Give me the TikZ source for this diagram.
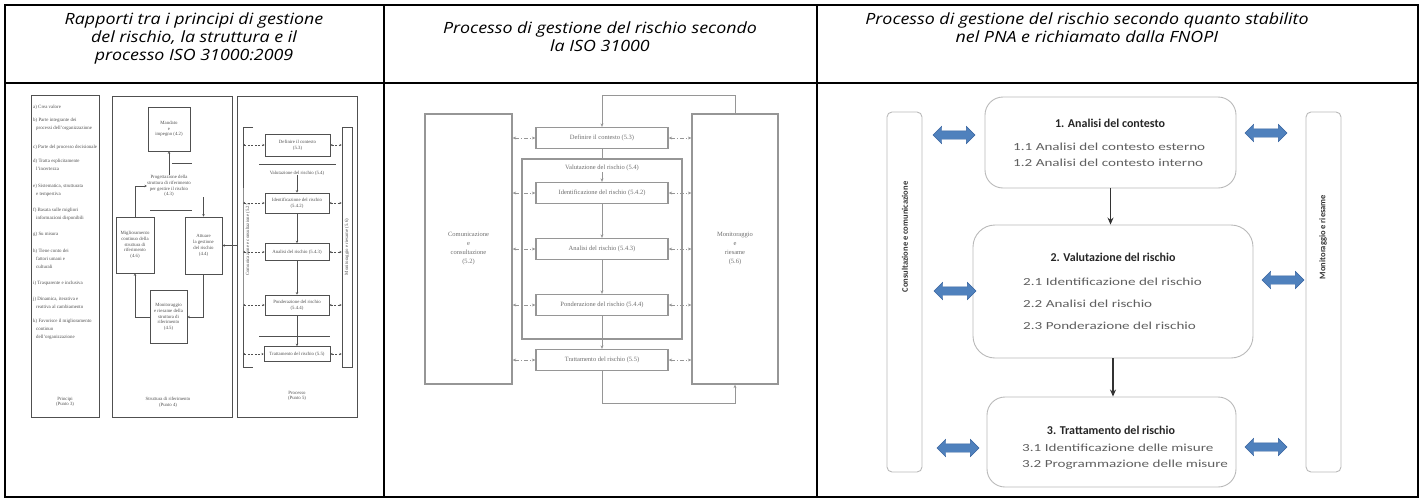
\documentclass[tikz,border=0pt]{standalone}
\usepackage{fontspec}
\setmainfont{Liberation Serif}
\newfontfamily\headfont[FakeStretch=1.15]{Open Sans}
\newfontfamily\pnafont{Carlito}
\newfontfamily\pnaitemfont[FakeStretch=1.4]{Carlito}
\usetikzlibrary{positioning,calc,shapes.arrows,arrows.meta}

\definecolor{scangray}{RGB}{80,80,80}
\definecolor{isogray}{RGB}{150,150,150}
\definecolor{isotext}{RGB}{110,110,110}
\definecolor{pnaline}{RGB}{185,185,185}
\definecolor{pnatext}{RGB}{95,95,95}
\definecolor{pnablue}{RGB}{79,129,189}
\definecolor{pnabluedark}{RGB}{56,100,160}

\tikzset{cell/.style={draw=black, line width=1.8pt},
         head/.style={font=\headfont\itshape\fontsize{15.5}{18}\selectfont, align=center, anchor=north, inner sep=0pt},
         scanbox/.style={draw=scangray, line width=0.7pt},
         scantxt/.style={font=\fontsize{4.8}{5.8}\selectfont, text=scangray, align=center, inner sep=0pt},
         scanitem/.style={scantxt, align=left, anchor=north west, font=\fontsize{4.9}{8}\selectfont},
         scanarr/.style={->, >={Stealth[length=2.5pt,width=2.5pt]}, draw=scangray, line width=0.5pt},
         scanside/.style={<->, >={Stealth[length=2.2pt,width=2.2pt]}, draw=scangray, line width=0.5pt, dash pattern=on 2pt off 1.5pt},
         isobox/.style={draw=isogray, line width=1.3pt, minimum width=132pt, minimum height=21pt, font=\fontsize{6.5}{8}\selectfont, text=isotext},
         isoside/.style={draw=isogray, line width=1.3pt, font=\fontsize{6.5}{9}\selectfont, text=isotext, align=center},
         isoline/.style={draw=isogray, line width=0.9pt},
         isoarr/.style={isoline, -{Stealth[length=3.5pt,width=3pt]}},
         isodash/.style={isoline, {Stealth[length=3.5pt,width=3pt]}-{Stealth[length=3.5pt,width=3pt]}, dash pattern=on 4pt off 2pt on 1pt off 2pt},
         stage/.style={draw=pnaline, line width=0.9pt, rounded corners=18pt},
         stitle/.style={font=\pnafont\bfseries\fontsize{12}{14}\selectfont, text=black!85},
         sitem/.style={font=\pnaitemfont\fontsize{10.8}{12}\selectfont, text=pnatext, anchor=west, inner sep=0pt},
         sidebar/.style={draw=pnaline, line width=0.9pt, rounded corners=5pt, minimum width=35pt, minimum height=360pt},
         sidetxt/.style={font=\pnafont\bfseries\fontsize{8.5}{10}\selectfont, text=black!80, rotate=90},
         link/.style={double arrow, fill=pnablue, draw=pnabluedark, line width=0.4pt, minimum height=42pt, minimum width=17pt, inner xsep=0pt, inner ysep=4pt, double arrow head extend=4.5pt},
         flow/.style={-{Stealth[length=7pt,width=6pt]}, line width=1.3pt, draw=black!80}
}

\begin{document}
\begin{tikzpicture}[x=1pt,y=-1pt]
  \useasboundingbox (0,0) rectangle (1424,501);

  % table
  \draw[cell] (5,5) rectangle (1418,497);
  \draw[cell] (5,83) -- (1418,83);
  \draw[cell] (384,5) -- (384,497);
  \draw[cell] (817,5) -- (817,497);
  \node[head] (h1) at (194,12.5) {Rapporti tra i principi di gestione\\del rischio, la struttura e il\\processo ISO 31000:2009};
  \node[head] (h2) at (600,21.5) {Processo di gestione del rischio secondo\\la ISO 31000};
  \node[head] (h3) at (1087,12.5) {Processo di gestione del rischio secondo quanto stabilito\\nel PNA e richiamato dalla FNOPI};

  % principi, struttura, processo
  \node[scanbox, minimum width=68pt, minimum height=322pt] (pri) at (65,256) {};
  \foreach \y/\t in {105/{a) Crea valore},
                     118/{b) Parte integrante dei\\\hspace*{3pt}processi dell'organizzazione},
                     145/{c) Parte del processo decisionale},
                     159/{d) Tratta esplicitamente\\\hspace*{3pt}l'incertezza},
                     184/{e) Sistematica, strutturata\\\hspace*{3pt}e tempestiva},
                     208/{f) Basata sulle migliori\\\hspace*{3pt}informazioni disponibili},
                     232/{g) Su misura},
                     249/{h) Tiene conto dei\\\hspace*{3pt}fattori umani e\\\hspace*{3pt}culturali},
                     281/{i) Trasparente e inclusiva},
                     297/{j) Dinamica, iterativa e\\\hspace*{3pt}reattiva al cambiamento},
                     319/{k) Favorisce il miglioramento\\\hspace*{3pt}continuo\\\hspace*{3pt}dell'organizzazione}}
    \node[scanitem] at (33,\y) {\t};
  \node[scantxt] (pril) at (65,402) {Principi\\(Punto 3)};

  \node[scanbox, minimum width=120pt, minimum height=321pt] (str) at (172,256.5) {};
  \node[scanbox, scantxt, minimum width=42pt, minimum height=44pt] (man) at (169,129) {Mandato\\e\\impegno (4.2)};
  \node[scantxt] (prog) at (169,186) {Progettazione della\\struttura di riferimento\\per gestire il rischio\\(4.3)};
  \draw[scanbox] (172,163) -- (192,163);
  \draw[scanbox] (150,210) -- (192,210);
  \node[scanbox, scantxt, minimum width=38pt, minimum height=56pt] (mig) at (135,245) {Miglioramento\\continuo della\\struttura di\\riferimento\\(4.6)};
  \node[scanbox, scantxt, minimum width=37pt, minimum height=57pt] (att) at (203.5,245.5) {Attuare\\la gestione\\del rischio\\(4.4)};
  \node[scanbox, scantxt, minimum width=37pt, minimum height=53pt] (mstr) at (168.5,317) {Monitoraggio\\e riesame della\\struttura di\\riferimento\\(4.5)};
  \draw[scanarr] (prog.north) -- (prog.north |- man.south);
  \draw[scanarr] (prog.south -| att.north) -- (att.north);
  \draw[scanarr] (att.south) |- (mstr.east);
  \draw[scanarr] (mstr.west) -| (mig.south);
  \draw[scanarr] (mig.north) |- (prog.west);
  \node[scantxt] (strl) at (168,402) {Struttura di riferimento\\(Punto 4)};

  \node[scanbox, minimum width=120pt, minimum height=321pt] (prc) at (297,256.5) {};
  \draw[scanarr] (prc.west |- att.east) -- (att.east);
  \coordinate (ccl) at (243,247);
  \draw[scanbox] (253,127) -| (ccl) |- (253,367);
  \node[scantxt, rotate=90] (cc) at (248,240) {Comunicazione e consultazione (5.2)};
  \node[scanbox, minimum width=10pt, minimum height=240pt] (monr) at (347,247) {};
  \node[scantxt, rotate=90] at (monr) {Monitoraggio e riesame (5.6)};
  \node[scanbox, scantxt, minimum width=65pt, minimum height=22pt] (defr) at (297.5,145) {Definire il contesto\\(5.3)};
  \draw[scanbox] (259,164) -- (336,164);
  \node[scantxt] (valr) at (297,173) {Valutazione del rischio (5.4)};
  \node[scanbox, scantxt, minimum width=64pt, minimum height=20pt] (idrr) at (297,203) {Identificazione del rischio\\(5.4.2)};
  \node[scanbox, scantxt, minimum width=64pt, minimum height=17pt] (anrr) at (297,252) {Analisi del rischio (5.4.3)};
  \node[scanbox, scantxt, minimum width=64pt, minimum height=20pt] (ponr) at (297,305) {Ponderazione del rischio\\(5.4.4)};
  \draw[scanbox] (259,336) -- (330,336);
  \node[scanbox, scantxt, minimum width=66pt, minimum height=15pt] (trar) at (297,354) {Trattamento del rischio (5.5)};
  \draw[scanarr] (valr.south) -- (idrr.north);
  \draw[scanarr] (idrr.south) -- (anrr.north);
  \draw[scanarr] (anrr.south) -- (ponr.north);
  \draw[scanarr] (ponr.south) -- (trar.north);
  \foreach \n in {defr,idrr,anrr,ponr,trar} {
    \draw[scanside] (ccl |- \n.west) -- (\n.west);
    \draw[scanside] (\n.east) -- (monr.west |- \n.east);
  }
  \node[scantxt] (prcl) at (297,396) {Processo\\(Punto 5)};

  % ISO 31000
  \node[isoside, minimum width=87pt, minimum height=270pt] (isocom) at (468.5,249) {Comunicazione\\e\\consultazione\\(5.2)};
  \node[isoside, minimum width=86pt, minimum height=270pt] (isomon) at (735,249) {Monitoraggio\\e\\riesame\\(5.6)};
  \node[draw=isogray, line width=1.3pt, minimum width=160pt, minimum height=180pt] (isoval) at (602,249) {};
  \node[font=\fontsize{6.5}{8}\selectfont, text=isotext, inner sep=1pt] (isovall) at (602,168) {Valutazione del rischio (5.4)};
  \node[isobox] (isodef) at (602,138) {Definire il contesto (5.3)};
  \node[isobox] (isoidr) at (602,193) {Identificazione del rischio (5.4.2)};
  \node[isobox] (isoanr) at (602,249) {Analisi del rischio (5.4.3)};
  \node[isobox] (isopon) at (602,305) {Ponderazione del rischio (5.4.4)};
  \node[isobox] (isotra) at (602,360) {Trattamento del rischio (5.5)};
  \coordinate (isotop) at (602,95);
  \coordinate (isobot) at (602,403);
  \draw[isoarr] (isomon.north) |- (isotop) -- (isodef.north);
  \draw[isoline] (isodef.south) -- (isoval.north);
  \draw[isoarr] (isovall.south) -- (isoidr.north);
  \draw[isoarr] (isoidr.south) -- (isoanr.north);
  \draw[isoarr] (isoanr.south) -- (isopon.north);
  \draw[isoline] (isopon.south) -- (isoval.south);
  \draw[isoarr] (isoval.south) -- (isotra.north);
  \draw[isoarr] (isotra.south) -- (isobot) -| (isomon.south);
  \foreach \n in {isodef,isoidr,isoanr,isopon,isotra} {
    \draw[isodash] (isocom.east |- \n.west) -- (\n.west);
    \draw[isodash] (\n.east) -- (isomon.west |- \n.east);
  }

  % PNA / FNOPI
  \node[sidebar] (cons) at (904.5,292) {};
  \node[sidetxt] at (905,237) {Consultazione e comunicazione};
  \node[sidebar] (moni) at (1323.5,292) {};
  \node[sidetxt] at (1323,237) {Monitoraggio e riesame};

  \node[stage, minimum width=251pt, minimum height=91pt] (anal) at (1110.5,142.5) {};
  \node[stitle] at (1110,123) {1. Analisi del contesto};
  \node[sitem] at (1013,147) {1.1 Analisi del contesto esterno};
  \node[sitem] at (1013,163) {1.2 Analisi del contesto interno};

  \node[stage, rounded corners=22pt, minimum width=280pt, minimum height=133pt] (valu) at (1113,291.5) {};
  \node[stitle] at (1113,257) {2. Valutazione del rischio};
  \node[sitem] at (1023,282) {2.1 Identificazione del rischio};
  \node[sitem] at (1023,304) {2.2 Analisi del rischio};
  \node[sitem] at (1023,326) {2.3 Ponderazione del rischio};

  \node[stage, minimum width=249pt, minimum height=90pt] (trat) at (1111.5,442) {};
  \node[stitle] at (1111,430) {3. Trattamento del rischio};
  \node[sitem] at (1022,448) {3.1 Identificazione delle misure};
  \node[sitem] at (1022,465) {3.2 Programmazione delle misure};

  \draw[flow] (anal.south) -- (anal.south |- valu.north);
  \draw[flow] (valu.south) -- (valu.south |- trat.north);

  \node[link] (l1) at (954,135) {};
  \node[link] (l2) at (955,291) {};
  \node[link] (l3) at (958,448) {};
  \node[link] (r1) at (1266,133) {};
  \node[link] (r2) at (1283,280) {};
  \node[link] (r3) at (1266,447) {};
\end{tikzpicture}
\end{document}
